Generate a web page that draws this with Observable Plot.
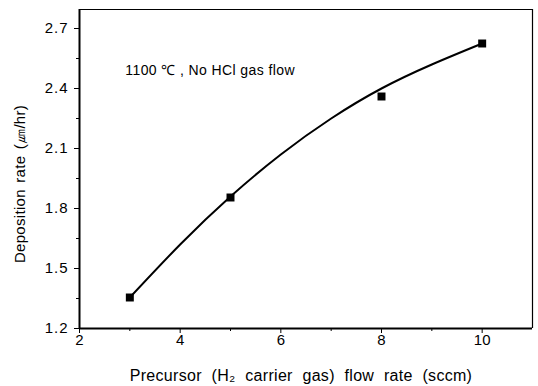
<!DOCTYPE html>
<html>
<head>
<meta charset="utf-8">
<script src="https://cdn.jsdelivr.net/npm/d3@7"></script>
<script src="https://cdn.jsdelivr.net/npm/@observablehq/plot@0.6"></script>
<style>
  body { margin: 0; background: #fff; }
</style>
</head>
<body>
<div id="chart"></div>
<script>
// measured points
const flowRate = [3, 5, 8, 10];
const depositionRate = [1.355, 1.855, 2.36, 2.625];
// fitted curve
const fitX = [3, 4, 5, 6, 7, 8, 9, 10];
const fitY = [1.355, 1.62, 1.86, 2.07, 2.25, 2.40, 2.52, 2.625];
// axis ticks
const xTicks = [2, 4, 6, 8, 10];
const xMinor = [3, 5, 7, 9];
const yTicks = [1.2, 1.5, 1.8, 2.1, 2.4, 2.7];
const yMinor = [1.35, 1.65, 1.95, 2.25, 2.55];
const annotation = "1100 ℃ , No HCl gas flow";
const xLabel = "Precursor (H₂ carrier gas) flow rate (sccm)";
const yLabel = "Deposition rate (㎛/hr)";

const points = flowRate.map((x, i) => ({x, y: depositionRate[i]}));
const fit = fitX.map((x, i) => ({x, y: fitY[i]}));
const xDom = [2, 11];
const yDom = [1.2, 2.795];
const font = "'Liberation Sans', Arial, sans-serif";

const chart = Plot.plot({
  width: 538,
  height: 386,
  marginLeft: 79,
  marginRight: 6,
  marginTop: 9,
  marginBottom: 58,
  style: {fontFamily: font, color: "#000", background: "#fff", overflow: "visible"},
  x: {domain: xDom},
  y: {domain: yDom},
  marks: [
    Plot.axisX({ticks: xTicks, tickSize: 5, tickPadding: 1, fontSize: 15, label: null, tickFormat: d => String(d)}),
    Plot.axisX({ticks: xMinor, tickSize: 3, tickFormat: () => "", label: null}),
    Plot.axisY({ticks: yTicks, tickSize: 5, tickPadding: 6, fontSize: 15, label: null, tickFormat: d => d.toFixed(1)}),
    Plot.axisY({ticks: yMinor, tickSize: 3, tickFormat: () => "", label: null}),
    Plot.ruleY([yDom[0]], {stroke: "#000", strokeWidth: 2}),
    Plot.ruleX([xDom[0]], {stroke: "#000", strokeWidth: 2}),
    Plot.ruleY([yDom[1]], {stroke: "#000", strokeWidth: 1.2}),
    Plot.ruleX([xDom[1]], {stroke: "#000", strokeWidth: 1.2}),
    Plot.line(fit, {x: "x", y: "y", curve: "natural", stroke: "#000", strokeWidth: 2}),
    Plot.dot(points, {x: "x", y: "y", symbol: "square", r: 4.5, fill: "#000", stroke: "none"}),
    Plot.text([annotation], {x: 2.91, y: 2.49, text: d => d, textAnchor: "start", lineAnchor: "middle", fontSize: 14, fill: "#000"}),
    Plot.text([xLabel], {frameAnchor: "bottom", text: d => d, textAnchor: "middle", lineAnchor: "middle", dx: -5, dy: 47, fontSize: 16, fill: "#000"}),
    Plot.text([yLabel], {frameAnchor: "left", text: d => d, textAnchor: "middle", lineAnchor: "middle", rotate: -90, dx: -59, dy: 15, fontSize: 15, fill: "#000"})
  ]
});
// wider letter spacing, as in the scanned figure
d3.select(chart).selectAll("text").each(function() {
  const t = this.textContent;
  const s = d3.select(this);
  if (t === xLabel) s.style("letter-spacing", "0.3px").style("word-spacing", "5px");
  else if (t === yLabel) s.style("letter-spacing", "0.3px").style("word-spacing", "2px");
  else if (t === annotation) s.style("letter-spacing", "0.4px");
  else if (yTicks.map(d => d.toFixed(1)).includes(t)) s.style("letter-spacing", "1px");
});
document.getElementById("chart").appendChild(chart);
</script>
</body>
</html>
